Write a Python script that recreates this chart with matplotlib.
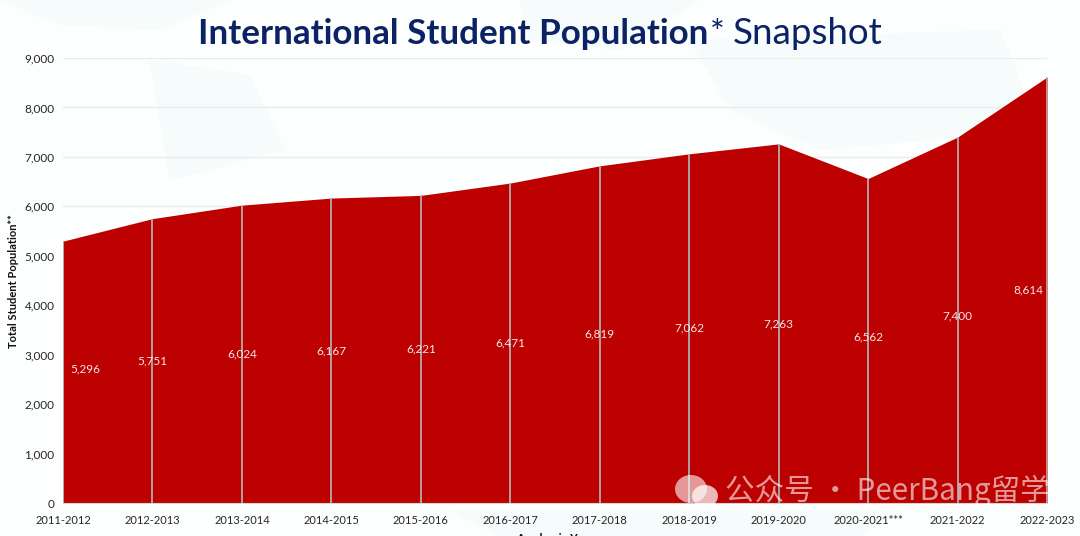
import matplotlib
matplotlib.use("Agg")
import matplotlib.pyplot as plt
from matplotlib.patches import Ellipse

plt.rcParams['font.family'] = ['Lato', 'Noto Sans CJK SC', 'DejaVu Sans']

years = ["2011-2012", "2012-2013", "2013-2014", "2014-2015", "2015-2016", "2016-2017",
         "2017-2018", "2018-2019", "2019-2020", "2020-2021***", "2021-2022", "2022-2023"]
students = [5296, 5751, 6024, 6167, 6221, 6471, 6819, 7062, 7263, 6562, 7400, 8614]
y_ticks = [0, 1000, 2000, 3000, 4000, 5000, 6000, 7000, 8000, 9000]

RED = "#bd0000"
NAVY = "#0b2265"

fig = plt.figure(figsize=(10.8, 5.36), dpi=100, facecolor="#fdfefe")

# faint world map behind the chart, only rough land blobs
bg = fig.add_axes([0, 0, 1, 1], zorder=0)
bg.set_xlim(0, 1080)
bg.set_ylim(536, 0)
bg.axis("off")
land = [(0, 0, 230, 0, 160, 30, 60, 25),
        (150, 60, 250, 75, 285, 150, 170, 180),
        (520, 0, 700, 0, 620, 50, 530, 40),
        (690, 40, 1000, 30, 1040, 130, 820, 150, 730, 110),
        (450, 510, 900, 510, 860, 536, 500, 536)]
for pts in land:
    bg.fill(pts[0::2], pts[1::2], color="#f6fbfb", lw=0)

ax = fig.add_axes([63 / 1080, 33 / 536, 984 / 1080, 445 / 536], zorder=1)
ax.patch.set_alpha(0)
x = list(range(len(years)))

ax.fill_between(x, students, 0, color=RED, lw=0, zorder=2)
ax.vlines(x, 0, students, color="#aeaeae", lw=1.3, zorder=3)

for i, v in enumerate(students):
    lx = i
    ly = v / 2
    if i == 0:
        lx = 0.25
        ly += 60
    if i == len(years) - 1:
        lx = i - 0.21
    if years[i] in ("2020-2021***", "2021-2022"):
        ly += 80
    ax.text(lx, ly, f"{v:,}", color="#f8e8e8", fontsize=8.5, ha="center", va="center", zorder=4)

ax.set_xlim(0, len(years) - 1)
ax.set_ylim(0, 9000)
ax.set_xticks(x)
ax.set_xticklabels(years, fontsize=8, color="#262626")
ax.set_yticks(y_ticks)
ax.set_yticklabels([f"{t:,}" for t in y_ticks], fontsize=8.5, color="#262626")
ax.tick_params(length=0)
ax.tick_params(axis="x", pad=9)
ax.tick_params(axis="y", pad=6)
ax.grid(axis="y", color="#e9ecec", lw=1)
ax.set_axisbelow(True)
for s in ["top", "right", "left"]:
    ax.spines[s].set_visible(False)
ax.spines["bottom"].set_color("#d4d4d4")

fig.text(14 / 1080, 1 - 281 / 536, "Total Student Population**", rotation=90, fontsize=8,
         fontweight="bold", color="#111111", ha="center", va="center")
fig.text(555 / 1080, 1 - 539 / 536, "Academic Year", fontsize=8.5, fontweight="bold",
         color="#111111", ha="center", va="center")

t1 = fig.text(198 / 1080, 1 - 44 / 536, "International Student Population", fontsize=25.2,
              fontweight="bold", color=NAVY, ha="left", va="baseline")
t2 = fig.text(0, 0, "*", fontsize=25.2, color=NAVY)
fig.canvas.draw()
box = t1.get_window_extent()
t2.set_position((box.x1 / 1080 + 0.001, 1 - 44 / 536))
box2 = t2.get_window_extent()
fig.text(box2.x1 / 1080 + 0.008, 1 - 44 / 536, "Snapshot", fontsize=26.5, color=NAVY,
         ha="left", va="baseline")

# watermark
bg2 = fig.add_axes([0, 0, 1, 1], zorder=5)
bg2.set_xlim(0, 1080)
bg2.set_ylim(536, 0)
bg2.axis("off")
wm = (1, 1, 1, 0.6)
bg2.add_patch(Ellipse((691, 489), 32, 28, color=wm, lw=0))
bg2.add_patch(Ellipse((705, 496), 26, 22, color=(1, 1, 1, 0.72), lw=0))
bg2.text(725, 491, "公众号 · PeerBang留学", fontsize=21.3, color=wm, ha="left", va="center",
         family=['Noto Sans CJK SC', 'DejaVu Sans'])

fig.savefig("out.png", dpi=100, facecolor=fig.get_facecolor())
